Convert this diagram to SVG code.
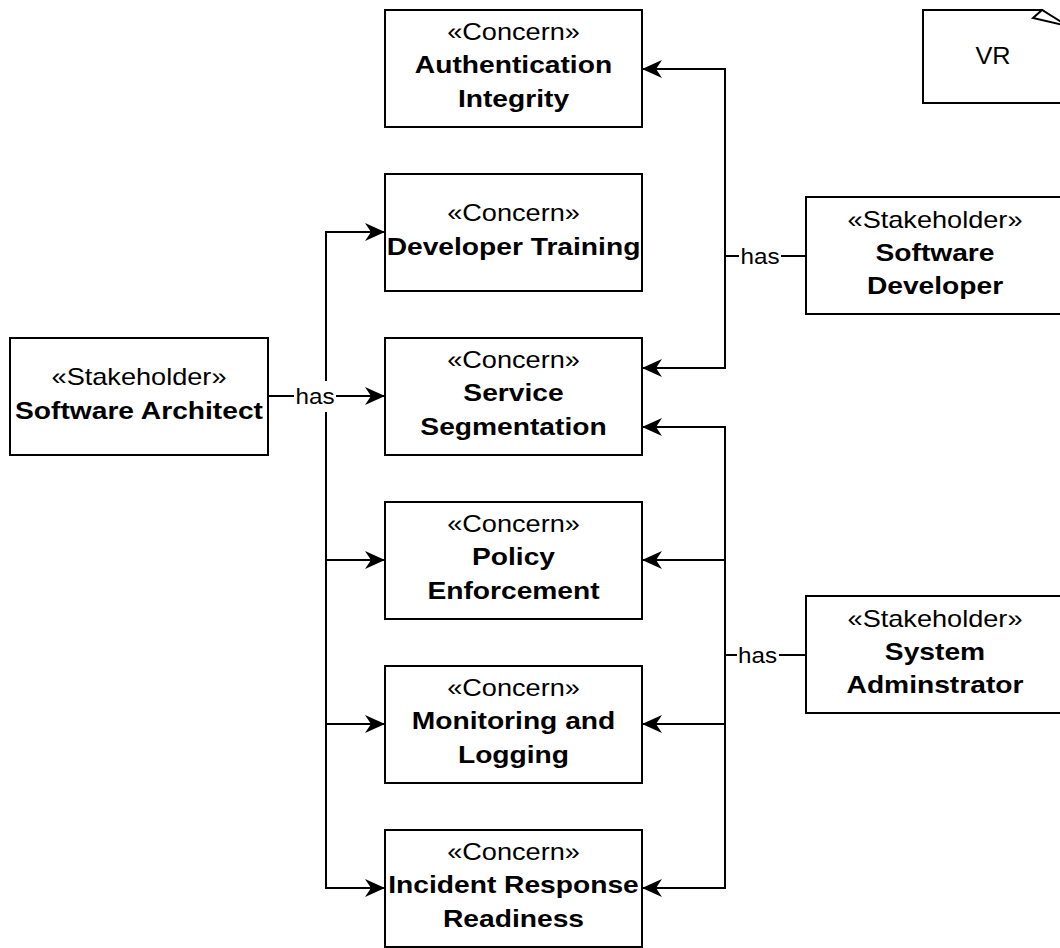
<svg xmlns="http://www.w3.org/2000/svg" width="1060" height="948" viewBox="0 0 1060 948">
<defs>
<style>
.box{fill:#fff;stroke:#000;stroke-width:2}
.t{font-family:"Liberation Sans",Arial,Helvetica,sans-serif;text-anchor:middle;fill:#000}
.st{font-size:23px}
.nm{font-size:23.5px;font-weight:bold}
.lbl{font-size:22px}
.ln{fill:none;stroke:#000;stroke-width:2}
.arr{marker-end:url(#arrow)}
.bg{fill:#fff}
</style>
<marker id="arrow" markerWidth="22" markerHeight="20" refX="20" refY="10" orient="auto" markerUnits="userSpaceOnUse" viewBox="0 0 22 20">
<path d="M0,1 L20,10 L0,19 L6,10 Z" fill="#000"/>
</marker>
</defs>
<rect width="1060" height="948" fill="#fff"/>

<g id="connectors">
<path class="ln arr" d="M268,396 H385"/>
<path class="ln arr" d="M326,396 V232 H385"/>
<path class="ln arr" d="M326,396 V560 H385"/>
<path class="ln arr" d="M326,396 V724 H385"/>
<path class="ln arr" d="M326,396 V888 H385"/>
<path class="ln arr" d="M806,256 H725 V69 H642"/>
<path class="ln arr" d="M725,256 V368 H642"/>
<path class="ln arr" d="M806,655 H725 V427 H642"/>
<path class="ln arr" d="M725,655 V560 H642"/>
<path class="ln arr" d="M725,655 V724 H642"/>
<path class="ln arr" d="M725,655 V888 H642"/>
<rect class="bg" x="294" y="381" width="42" height="31"/>
<text class="t lbl" transform="translate(315,404) scale(1.1,1)">has</text>
<rect class="bg" x="739" y="242" width="42" height="28"/>
<text class="t lbl" transform="translate(760,264) scale(1.1,1)">has</text>
<rect class="bg" x="737" y="641" width="42" height="28"/>
<text class="t lbl" transform="translate(757.5,663) scale(1.1,1)">has</text>
</g>

<g id="note-vr">
<path class="box" d="M923,10 H1042 L1075,33 V103 H923 Z"/>
<path class="box" d="M1042,10 L1033,18 L1068,26 Z"/>
<text class="t st" transform="translate(993,64) scale(1.1,1)">VR</text>
</g>

<g id="concern-authentication-integrity">
<rect class="box" x="385" y="10" width="257" height="117"/>
<text class="t st" transform="translate(513.5,40) scale(1.18,1)">«Concern»</text>
<text class="t nm" transform="translate(513.5,73) scale(1.2,1)">Authentication</text>
<text class="t nm" transform="translate(513.5,106.5) scale(1.2,1)">Integrity</text>
</g>

<g id="concern-developer-training">
<rect class="box" x="385" y="174" width="257" height="117"/>
<text class="t st" transform="translate(513.5,220.5) scale(1.18,1)">«Concern»</text>
<text class="t nm" transform="translate(513.5,254.5) scale(1.2,1)">Developer Training</text>
</g>

<g id="concern-service-segmentation">
<rect class="box" x="385" y="338" width="257" height="117"/>
<text class="t st" transform="translate(513.5,368) scale(1.18,1)">«Concern»</text>
<text class="t nm" transform="translate(513.5,401) scale(1.2,1)">Service</text>
<text class="t nm" transform="translate(513.5,434.5) scale(1.2,1)">Segmentation</text>
</g>

<g id="concern-policy-enforcement">
<rect class="box" x="385" y="502" width="257" height="117"/>
<text class="t st" transform="translate(513.5,532) scale(1.18,1)">«Concern»</text>
<text class="t nm" transform="translate(513.5,565) scale(1.2,1)">Policy</text>
<text class="t nm" transform="translate(513.5,598.5) scale(1.2,1)">Enforcement</text>
</g>

<g id="concern-monitoring-logging">
<rect class="box" x="385" y="666" width="257" height="117"/>
<text class="t st" transform="translate(513.5,696) scale(1.18,1)">«Concern»</text>
<text class="t nm" transform="translate(513.5,729) scale(1.2,1)">Monitoring and</text>
<text class="t nm" transform="translate(513.5,762.5) scale(1.2,1)">Logging</text>
</g>

<g id="concern-incident-response">
<rect class="box" x="385" y="830" width="257" height="117"/>
<text class="t st" transform="translate(513.5,860) scale(1.18,1)">«Concern»</text>
<text class="t nm" transform="translate(513.5,893) scale(1.2,1)">Incident Response</text>
<text class="t nm" transform="translate(513.5,926.5) scale(1.2,1)">Readiness</text>
</g>

<g id="stakeholder-software-architect">
<rect class="box" x="10" y="338" width="258" height="117"/>
<text class="t st" transform="translate(139,384.5) scale(1.18,1)">«Stakeholder»</text>
<text class="t nm" transform="translate(139,418.5) scale(1.2,1)">Software Architect</text>
</g>

<g id="stakeholder-software-developer">
<rect class="box" x="806" y="197" width="258" height="117"/>
<text class="t st" transform="translate(935,227.5) scale(1.18,1)">«Stakeholder»</text>
<text class="t nm" transform="translate(935,260.5) scale(1.2,1)">Software</text>
<text class="t nm" transform="translate(935,294) scale(1.2,1)">Developer</text>
</g>

<g id="stakeholder-system-administrator">
<rect class="box" x="806" y="596" width="258" height="117"/>
<text class="t st" transform="translate(935,626.5) scale(1.18,1)">«Stakeholder»</text>
<text class="t nm" transform="translate(935,659.5) scale(1.2,1)">System</text>
<text class="t nm" transform="translate(935,693) scale(1.2,1)">Adminstrator</text>
</g>
</svg>
